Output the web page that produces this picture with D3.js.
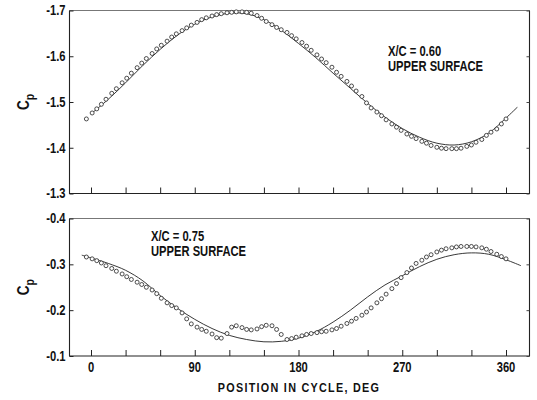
<!DOCTYPE html>
<html>
<head>
<meta charset="utf-8">
<script src="https://cdn.jsdelivr.net/npm/d3@7"></script>
<style>
  html, body { margin: 0; padding: 0; background: #fff; }
  svg { display: block; }
  text { font-family: "Liberation Sans", Arial, sans-serif; font-weight: bold; fill: #111; }
</style>
</head>
<body>
<svg id="chart" width="537" height="400"></svg>
<script>
// Cycle positions (deg) of the measured points
const measuredDeg = [
  -4, 1, 5, 9, 13, 18, 22, 27, 31, 35,
  40, 44, 48, 53, 57, 61, 66, 70, 74, 79,
  83, 87, 92, 96, 100, 105, 109, 113, 118, 122,
  126, 131, 135, 139, 144, 148, 152, 157, 161, 165,
  170, 174, 178, 183, 187, 191, 196, 200, 204, 209,
  213, 217, 222, 226, 230, 235, 239, 243, 248, 252,
  256, 261, 265, 269, 274, 278, 282, 287, 291, 295,
  300, 304, 308, 313, 317, 321, 326, 330, 334, 339,
  343, 347, 352, 356, 360
];

// X/C = 0.60, upper surface: measured Cp
const cpMeasured060 = [
  -1.463, -1.476, -1.485, -1.495, -1.506, -1.519, -1.529, -1.542, -1.552, -1.563,
  -1.575, -1.585, -1.595, -1.606, -1.616, -1.624, -1.633, -1.642, -1.649, -1.656,
  -1.662, -1.668, -1.674, -1.680, -1.684, -1.688, -1.691, -1.693, -1.695, -1.696,
  -1.697, -1.697, -1.696, -1.694, -1.689, -1.683, -1.676, -1.669, -1.663, -1.658,
  -1.652, -1.645, -1.638, -1.630, -1.622, -1.613, -1.603, -1.594, -1.586, -1.576,
  -1.565, -1.556, -1.545, -1.535, -1.524, -1.512, -1.498, -1.487, -1.478, -1.470,
  -1.461, -1.452, -1.445, -1.438, -1.430, -1.425, -1.420, -1.414, -1.410, -1.405,
  -1.401, -1.399, -1.398, -1.398, -1.398, -1.399, -1.403, -1.406, -1.412, -1.418,
  -1.427, -1.434, -1.441, -1.452, -1.463
];

// X/C = 0.75, upper surface: measured Cp
const cpMeasured075 = [
  -0.316, -0.312, -0.308, -0.303, -0.297, -0.291, -0.285, -0.279, -0.273, -0.267,
  -0.261, -0.256, -0.250, -0.244, -0.236, -0.226, -0.216, -0.210, -0.205, -0.194,
  -0.181, -0.170, -0.163, -0.158, -0.154, -0.148, -0.140, -0.139, -0.149, -0.163,
  -0.166, -0.162, -0.158, -0.157, -0.159, -0.164, -0.167, -0.166, -0.158, -0.147,
  -0.136, -0.138, -0.141, -0.144, -0.147, -0.149, -0.151, -0.153, -0.154, -0.157,
  -0.160, -0.165, -0.171, -0.176, -0.182, -0.189, -0.196, -0.205, -0.216, -0.225,
  -0.235, -0.247, -0.258, -0.271, -0.282, -0.292, -0.302, -0.309, -0.316, -0.321,
  -0.327, -0.331, -0.334, -0.336, -0.338, -0.339, -0.339, -0.339, -0.338, -0.336,
  -0.333, -0.328, -0.322, -0.317, -0.312
];

// Predicted curves
const theoryDeg060 = [0, 15, 30, 45, 60, 75, 90, 105, 120, 135, 150, 165, 180,
  195, 210, 225, 240, 255, 270, 285, 300, 315, 330, 345, 360, 370];
const cpTheory060 = [-1.474, -1.506, -1.542, -1.580, -1.615, -1.646, -1.670, -1.686, -1.694,
  -1.693, -1.680, -1.657, -1.628, -1.597, -1.563, -1.530, -1.497, -1.467, -1.442,
  -1.423, -1.410, -1.406, -1.413, -1.432, -1.465, -1.489];

const theoryDeg075 = [-8, 0, 15, 30, 45, 60, 75, 90, 105, 120, 135, 150, 165, 180,
  195, 210, 225, 240, 255, 270, 285, 300, 315, 330, 345, 360, 373];
const cpTheory075 = [-0.320, -0.314, -0.302, -0.287, -0.264, -0.232, -0.204, -0.180, -0.160,
  -0.145, -0.136, -0.131, -0.132, -0.139, -0.153, -0.174, -0.200, -0.229, -0.255,
  -0.275, -0.295, -0.311, -0.321, -0.325, -0.322, -0.310, -0.297];

// Axis ticks and labels
const xMinorTicks = [0, 30, 60, 90, 120, 150, 180, 210, 240, 270, 300, 330, 360];
const xLabelTicks = [0, 90, 180, 270, 360];
const yTicks060 = [-1.7, -1.6, -1.5, -1.4, -1.3];
const yTicks075 = [-0.4, -0.3, -0.2, -0.1];
const xTitle = "POSITION IN CYCLE, DEG";

// condensed lettering: horizontal squeeze applied around each text's anchor
const SQUEEZE = 0.8;

const svg = d3.select("#chart");

function narrowText(parent, x, y, size, anchor) {
  return parent.append("text")
    .attr("transform", `translate(${x},${y}) scale(${SQUEEZE},1)`)
    .attr("text-anchor", anchor || "start")
    .style("font-size", size + "px");
}

const frameLeft = 69.5, frameRight = 529.5;
const x = d3.scaleLinear().domain([0, 360]).range([91, 506]);

const panels = [
  {
    y: d3.scaleLinear().domain([-1.7, -1.3]).range([10.5, 193.5]),
    top: 10.5, bottom: 193.5,
    ticks: yTicks060, measured: cpMeasured060,
    theoryDeg: theoryDeg060, theory: cpTheory060,
    label: ["X/C = 0.60", "UPPER SURFACE"], labelX: 388, labelY: 56
  },
  {
    y: d3.scaleLinear().domain([-0.4, -0.1]).range([218.5, 356]),
    top: 218.5, bottom: 356,
    ticks: yTicks075, measured: cpMeasured075,
    theoryDeg: theoryDeg075, theory: cpTheory075,
    label: ["X/C = 0.75", "UPPER SURFACE"], labelX: 151, labelY: 241
  }
];

panels.forEach((p) => {
  const g = svg.append("g");

  // frame: top edge a bit lighter
  g.append("line").attr("x1", frameLeft).attr("x2", frameRight)
    .attr("y1", p.top).attr("y2", p.top).attr("stroke", "#777").attr("stroke-width", 1);
  g.append("path")
    .attr("d", `M${frameLeft},${p.top}V${p.bottom}H${frameRight}V${p.top}`)
    .attr("fill", "none").attr("stroke", "#222").attr("stroke-width", 1.1);

  // left axis: inward ticks with labels
  const left = d3.axisLeft(p.y).tickValues(p.ticks).tickSize(-4).tickPadding(4)
    .tickFormat(d => d.toFixed(1));
  const ga = g.append("g").attr("transform", `translate(${frameLeft},0)`).call(left);
  ga.select(".domain").remove();
  ga.selectAll(".tick line").attr("stroke", "#222");
  ga.selectAll(".tick text")
    .style("font-size", "14px").attr("fill", "#111")
    .attr("x", -4 / SQUEEZE)
    .attr("transform", `scale(${SQUEEZE},1)`);

  // right axis: inward ticks only
  const right = d3.axisRight(p.y).tickValues(p.ticks).tickSize(-3).tickFormat("");
  const gr = g.append("g").attr("transform", `translate(${frameRight},0)`).call(right);
  gr.select(".domain").remove();
  gr.selectAll(".tick line").attr("stroke", "#444");

  // bottom axis: inward ticks every 30 deg
  const bottom = d3.axisBottom(x).tickValues(xMinorTicks).tickSize(-6).tickFormat("");
  const gb = g.append("g").attr("transform", `translate(0,${p.bottom})`).call(bottom);
  gb.select(".domain").remove();
  gb.selectAll(".tick line").attr("stroke", "#222");

  // predicted curve
  const line = d3.line()
    .x(d => x(d[0])).y(d => p.y(d[1]))
    .curve(d3.curveCatmullRom.alpha(0.5));
  g.append("path")
    .datum(d3.zip(p.theoryDeg, p.theory))
    .attr("d", line)
    .attr("fill", "none").attr("stroke", "#222").attr("stroke-width", 0.9);

  // measured points
  g.selectAll("circle.pt")
    .data(d3.zip(measuredDeg, p.measured))
    .join("circle")
    .attr("class", "pt")
    .attr("cx", d => x(d[0])).attr("cy", d => p.y(d[1]))
    .attr("r", 2)
    .attr("fill", "#fff").attr("stroke", "#222").attr("stroke-width", 0.8);

  // station label
  narrowText(g, p.labelX, p.labelY, 14).text(p.label[0]);
  narrowText(g, p.labelX, p.labelY + 15, 14).text(p.label[1]);

  // Cp axis title
  const cy = (p.top + p.bottom) / 2;
  const yt = g.append("text")
    .attr("transform", `translate(29,${cy}) rotate(-90) scale(${SQUEEZE},1)`)
    .attr("text-anchor", "middle")
    .style("font-size", "17px");
  yt.append("tspan").text("C");
  yt.append("tspan").attr("dy", 5).style("font-size", "13px").text("p");
});

// x tick labels below the lower panel
xLabelTicks.forEach(d => {
  narrowText(svg, x(d), 372, 14, "middle").text(d);
});

narrowText(svg, 299, 392, 13.5, "middle")
  .style("letter-spacing", "1.6px")
  .text(xTitle);
</script>
</body>
</html>
